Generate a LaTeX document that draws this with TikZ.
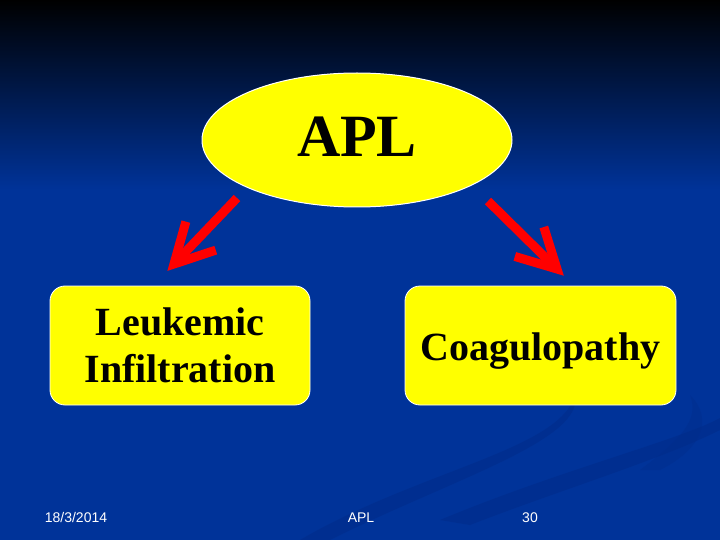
\documentclass[tikz,border=0pt]{standalone}
\usepackage{fontspec}
\setmainfont{Liberation Serif}
\newfontfamily\footfont{Liberation Sans}
\usetikzlibrary{arrows,positioning,shapes,shapes.geometric,calc}
\definecolor{slideblue}{RGB}{0,51,153}
\definecolor{swoosh}{RGB}{0,44,138}
\definecolor{boxyellow}{RGB}{255,255,0}
\newcommand{\lift}[2]{\raisebox{#1}[\height][\depth]{#2}}
\tikzset{
  bubble/.style={ellipse, draw=white, line width=1pt, fill=boxyellow, minimum width=310pt, minimum height=134pt, inner sep=0pt, font=\fontsize{60}{60}\selectfont\bfseries},
  topicbox/.style={rounded corners=15pt, draw=white, line width=0.8pt, fill=boxyellow, minimum height=119pt, inner sep=0pt, align=center, font=\fontsize{40}{47}\selectfont\bfseries},
  redline/.style={draw=red, line width=9pt},
  redhead/.style={draw=red, line width=9pt, line join=miter, miter limit=10},
  footer/.style={text=white, anchor=base, font=\footfont\fontsize{14}{14}\selectfont}
}
\begin{document}
\begin{tikzpicture}[x=1pt, y=-1pt]
        \useasboundingbox (0,0) rectangle (720,540);
        %background
        \fill[slideblue] (0,0) rectangle (720,540);
        \shade[top color=black, bottom color=slideblue] (0,0) rectangle (720,190);
        \fill[swoosh, opacity=0.6] (300,540) .. controls (420,470) and (560,450) .. (575,395)
              .. controls (585,440) and (450,480) .. (330,540) -- cycle;
        \fill[swoosh, opacity=0.6] (440,520) .. controls (560,470) and (680,440) .. (720,418)
              -- (720,430) .. controls (660,460) and (560,490) .. (470,525) -- cycle;
        \fill[swoosh, opacity=0.4] (640,470) .. controls (680,440) and (700,420) .. (690,395)
              .. controls (715,420) and (700,450) .. (660,470) -- cycle;
        %nodes
        \node[bubble] (apl) at (357,140) {\lift{3pt}{APL}};
        \node[topicbox, minimum width=260pt] (leuk) at (180,345.5) {Leukemic\\Infiltration};
        \node[topicbox, minimum width=271pt] (coag) at (540.5,345.5) {\lift{-6pt}{Coagulopathy}};
        \coordinate (la) at (237,198);
        \coordinate (lb) at (174,264);
        \coordinate (ra) at (488,201);
        \coordinate (rb) at (557,269);
        %edges
        \path [redline] (la) to (lb);
        \path [redhead] ($(lb)!44pt!28:(la)$) -- (lb) -- ($(lb)!44pt!-28:(la)$);
        \path [redline] (ra) to (rb);
        \path [redhead] ($(rb)!44pt!28:(ra)$) -- (rb) -- ($(rb)!44pt!-28:(ra)$);
        %footer
        \node[footer] (date) at (76,522) {18/3/2014};
        \node[footer] (title) at (361,522) {APL};
        \node[footer] (page) at (530,522) {30};
      \end{tikzpicture}
\end{document}
